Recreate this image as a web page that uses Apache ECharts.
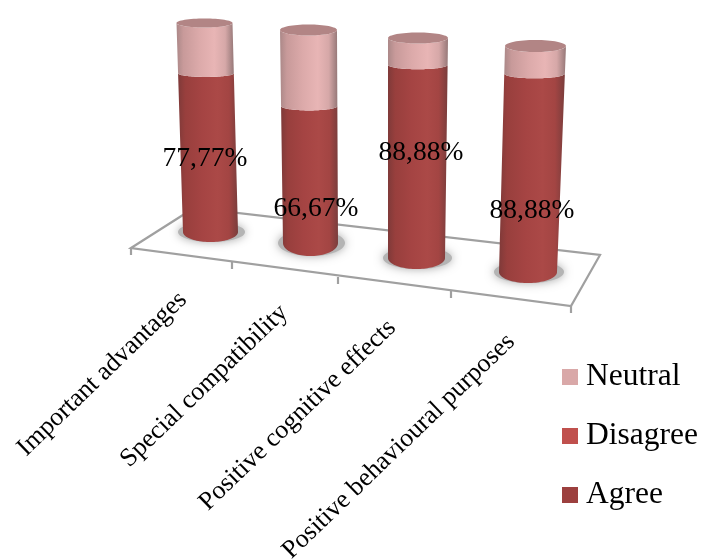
<!DOCTYPE html>
<html>
<head>
<meta charset="utf-8">
<style>html,body{margin:0;padding:0;background:#fff;overflow:hidden}#chart{width:701px;height:560px}</style>
<script src="https://cdn.jsdelivr.net/npm/echarts@6/dist/echarts.min.js"></script>
</head>
<body>
<div id="chart"></div>
<script>
const categories = ['Important advantages', 'Special compatibility', 'Positive cognitive effects', 'Positive behavioural purposes'];
const agree = [77.77, 66.67, 88.88, 88.88];
const disagree = [0, 0, 0, 0];
const neutral = [22.23, 33.33, 11.12, 11.12];

const FONT = '"Liberation Serif", "Times New Roman", serif';
const LEGEND_COLORS = { Neutral: '#D9A8A8', Disagree: '#C0504D', Agree: '#9C403E' };
const SHADES = {
  Agree: ['#7f3a39', '#983f3d', '#a54443', '#ab4947', '#a34543', '#7a3d3c'],
  Disagree: ['#8f3f3d', '#b04a47', '#c0504d', '#c85a57', '#bb4f4c', '#8a4442'],
  Neutral: ['#ab8888', '#c89a9a', '#dcaaaa', '#e8b5b5', '#d6a8a8', '#967878']
};

// Each cylinder stands in its own small plot; the floor is seen in perspective,
// so every plot carries its own footprint, lean and ellipse sizes.
const columns = [
  { tickX: 183, margin: 64, baseY: 232, topY: 23, baseDx: 27.5, topDx: 21.5, baseRx: 27.5, topRx: 28, baseRy: 10, topRy: 4.5, textDx: -5.5, textDy: -73 },
  { tickX: 284, margin: 66, baseY: 243, topY: 30, baseDx: 26.5, topDx: 24.5, baseRx: 27.5, topRx: 28.5, baseRy: 13, topRy: 5.5, textDx: 5.5, textDy: -34 },
  { tickX: 392, margin: 66, baseY: 258, topY: 38, baseDx: 24.5, topDx: 26, baseRx: 28.5, topRx: 30, baseRy: 11, topRy: 5.5, textDx: 4.5, textDy: -105 },
  { tickX: 511, margin: 66, baseY: 272, topY: 46, baseDx: 17, topDx: 24.5, baseRx: 29, topRx: 30.5, baseRy: 11, topRy: 6, textDx: 4, textDy: -61 }
];
const FORESHORTEN = 1.11;

function sideGradient(stops) {
  const offsets = [0, 0.12, 0.4, 0.66, 0.85, 1];
  return {
    type: 'linear', x: 0, y: 0, x2: 1, y2: 0,
    colorStops: stops.map((color, i) => ({ offset: offsets[i], color }))
  };
}

// Position of a cross-section of the cylinder for a given pixel height on the value axis.
function ring(col, tickCx, pixelY, y0, y100) {
  const t = (y0 - pixelY) / (y0 - y100);
  const s = t / (t + (1 - t) * FORESHORTEN);
  return {
    cx: tickCx + col.baseDx + (col.topDx - col.baseDx) * s,
    cy: y0 - (y0 - y100) * s,
    rx: col.baseRx + (col.topRx - col.baseRx) * s,
    ry: t <= 0 ? col.baseRy : (t >= 1 ? col.topRy : col.topRy * 0.8)
  };
}

function lowerArc(r, reverse) {
  const pts = [];
  for (let i = 0; i <= 48; i++) {
    const a = Math.PI * i / 48;
    pts.push([r.cx - r.rx * Math.cos(a), r.cy + r.ry * Math.sin(a)]);
  }
  return reverse ? pts.reverse() : pts;
}

function makeRenderItem(col, name, showText) {
  return function (params, api) {
    const start = api.value(1), end = api.value(2);
    const tick = api.coord([0, 0]);
    const y0 = tick[1];
    const y100 = api.coord([0, 100])[1];
    const tickCx = tick[0];
    const children = [];
    const base = ring(col, tickCx, api.coord([0, start])[1], y0, y100);
    const top = ring(col, tickCx, api.coord([0, end])[1], y0, y100);

    if (start === 0 && end > start) {
      // soft contact shadow on the floor
      children.push({
        type: 'ellipse', z2: 1,
        shape: { cx: base.cx + 1, cy: base.cy, rx: base.rx + 6, ry: base.ry },
        style: { fill: '#b4b4b4', shadowBlur: 10, shadowColor: '#a8a8a8' }
      });
    }
    if (end > start) {
      children.push({
        type: 'polygon', z2: 2,
        shape: { points: lowerArc(base).concat(lowerArc(top, true)) },
        style: { fill: sideGradient(SHADES[name]) }
      });
      if (end >= 100) {
        children.push({
          type: 'ellipse', z2: 3,
          shape: { cx: top.cx, cy: top.cy, rx: top.rx, ry: top.ry },
          style: { fill: '#b28585' }
        });
      }
    }
    if (showText) {
      children.push({
        type: 'text', z2: 10,
        style: {
          x: tickCx + col.baseDx + col.textDx,
          y: y0 + col.textDy,
          text: agree[params.seriesIndex / 3 | 0].toFixed(2).replace('.', ',') + '%',
          font: '27.5px ' + FONT,
          fill: '#000',
          align: 'center',
          verticalAlign: 'middle'
        }
      });
    }
    return { type: 'group', children };
  };
}

const grid = [], xAxis = [], yAxis = [], series = [];
columns.forEach((col, i) => {
  grid.push({ left: col.tickX - 20, width: 40, top: col.topY, bottom: 560 - col.baseY, containLabel: false, outerBoundsMode: 'none' });
  xAxis.push({
    gridIndex: i, type: 'category', data: [categories[i]],
    axisLine: { show: false }, axisTick: { show: false },
    axisLabel: { interval: 0, rotate: 44, margin: col.margin, fontFamily: FONT, fontSize: 26, color: '#000', hideOverlap: false }
  });
  yAxis.push({ gridIndex: i, type: 'value', min: 0, max: 100, show: false, splitLine: { show: false } });
  const stack = [
    ['Agree', 0, agree[i]],
    ['Disagree', agree[i], agree[i] + disagree[i]],
    ['Neutral', agree[i] + disagree[i], agree[i] + disagree[i] + neutral[i]]
  ];
  stack.forEach(([name, from, to]) => {
    series.push({
      type: 'custom', name, xAxisIndex: i, yAxisIndex: i, z: 2 + i,
      clip: false, silent: true,
      itemStyle: { color: LEGEND_COLORS[name] },
      renderItem: makeRenderItem(col, name, name === 'Agree'),
      encode: { x: 0, y: [1, 2] },
      data: [[0, from, Math.round(to * 100) / 100]]
    });
  });
});

const floorOutline = [[131, 248], [194, 208], [600, 255], [571, 306]];
const floorTicks = [[131, 248], [232, 262], [338, 277], [451, 291], [571, 306]];
const FLOOR_STROKE = '#A0A0A0';
const floorGraphics = [{
  type: 'polygon', z: 0,
  shape: { points: floorOutline },
  style: { fill: '#fff', stroke: FLOOR_STROKE, lineWidth: 2.2 }
}].concat(floorTicks.map(([x, y]) => ({
  type: 'line', z: 0,
  shape: { x1: x, y1: y, x2: x, y2: y + 7 },
  style: { stroke: FLOOR_STROKE, lineWidth: 2.2 }
})));

const chart = echarts.init(document.getElementById('chart'), null, { renderer: 'canvas' });
chart.setOption({
  animation: false,
  backgroundColor: '#fff',
  grid, xAxis, yAxis, series,
  graphic: floorGraphics,
  legend: {
    orient: 'vertical', left: 562, top: 361, padding: 0, itemWidth: 16, itemHeight: 16, itemGap: 27,
    icon: 'rect',
    data: ['Neutral', 'Disagree', 'Agree'],
    textStyle: { fontFamily: FONT, fontSize: 31.5, color: '#000', padding: [0, 0, 0, 3] }
  }
});
</script>
</body>
</html>
